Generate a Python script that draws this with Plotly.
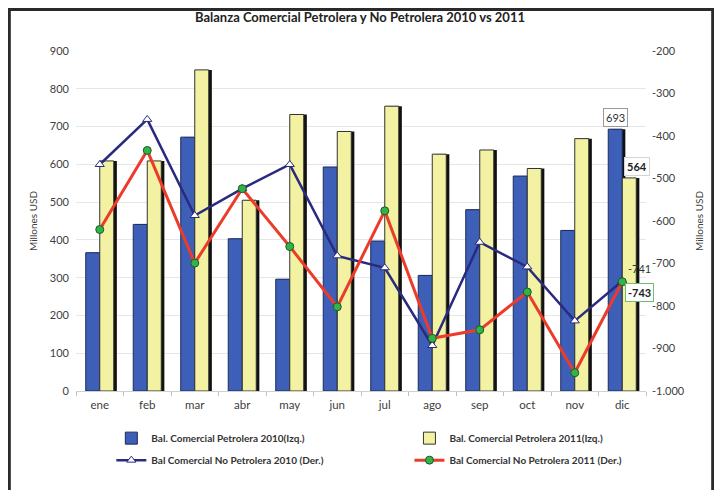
import plotly.graph_objects as go

meses = ["ene", "feb", "mar", "abr", "may", "jun", "jul", "ago", "sep", "oct", "nov", "dic"]
petrolera_2010 = [366, 441, 672, 403, 296, 593, 397, 306, 480, 569, 425, 693]
petrolera_2011 = [609, 609, 850, 505, 732, 687, 754, 627, 638, 589, 668, 564]
no_petrolera_2010 = [-467, -361, -587, -524, -467, -682, -710, -893, -650, -708, -835, -741]
no_petrolera_2011 = [-620, -434, -699, -524, -660, -802, -576, -876, -856, -767, -957, -743]
der_ticks = [-200, -300, -400, -500, -600, -700, -800, -900, -1000]


def fmt(v):
    s = "{:,}".format(abs(v)).replace(",", ".")
    return ("-" if v < 0 else "") + s


FONT = "Lato, Open Sans, sans-serif"
BW = 0.295
SH = 0.065

fig = go.Figure()

for vals, off in [(petrolera_2010, -BW), (petrolera_2011, 0)]:
    fig.add_trace(go.Bar(x=meses, y=vals, width=BW, offset=off + SH,
                         marker=dict(color="#111111", line=dict(width=0)),
                         showlegend=False, hoverinfo="skip"))

fig.add_trace(go.Bar(x=meses, y=petrolera_2010, width=BW, offset=-BW,
                     name="Bal. Comercial Petrolera 2010(Izq.)", legendgroup="a",
                     marker=dict(color="#3d5fb8", line=dict(color="#1c2a5a", width=1)),
                     legend="legend"))
fig.add_trace(go.Bar(x=meses, y=petrolera_2011, width=BW, offset=0,
                     name="Bal. Comercial Petrolera 2011(Izq.)", legendgroup="b",
                     marker=dict(color="#f2f2a2", line=dict(color="#333333", width=1)),
                     legend="legend2"))
fig.add_trace(go.Scatter(x=meses, y=no_petrolera_2010, yaxis="y2", mode="lines+markers",
                         name="Bal Comercial No Petrolera 2010 (Der.)", legendgroup="c",
                         line=dict(color="#2a2a7e", width=2.5),
                         marker=dict(symbol="triangle-up", size=8, color="white",
                                     line=dict(color="#2a2a7e", width=1)),
                         legend="legend"))
fig.add_trace(go.Scatter(x=meses, y=no_petrolera_2011, yaxis="y2", mode="lines+markers",
                         name="Bal Comercial No Petrolera 2011 (Der.)", legendgroup="d",
                         line=dict(color="#ec3b2a", width=3),
                         marker=dict(symbol="circle", size=8, color="#33b24a",
                                     line=dict(color="#1d5a25", width=1)),
                         legend="legend2"))

ann = []
ann.append(dict(x="dic", y=petrolera_2010[-1], xref="x", yref="y", text=str(petrolera_2010[-1]),
                showarrow=False, xshift=-7, yshift=12, bgcolor="white", bordercolor="#9a9a9a",
                borderwidth=1, borderpad=2, font=dict(size=11, color="#333333", family=FONT)))
ann.append(dict(x="dic", y=petrolera_2011[-1], xref="x", yref="y", text="<b>%d</b>" % petrolera_2011[-1],
                showarrow=False, xshift=15, yshift=11, bgcolor="white", bordercolor="#d5d5d5",
                borderwidth=1, borderpad=2, font=dict(size=11, color="#222222", family=FONT)))
ann.append(dict(x="dic", y=no_petrolera_2010[-1], xref="x", yref="y2", text=fmt(no_petrolera_2010[-1]),
                showarrow=False, xshift=17, yshift=12,
                font=dict(size=11, color="#333333", family=FONT)))
ann.append(dict(x="dic", y=no_petrolera_2011[-1], xref="x", yref="y2", text="<b>%s</b>" % fmt(no_petrolera_2011[-1]),
                showarrow=False, xshift=17, yshift=-11, bgcolor="white", bordercolor="#6fbf73",
                borderwidth=1, borderpad=2, font=dict(size=11, color="#222222", family=FONT)))

fig.update_layout(
    width=722, height=490,
    margin=dict(l=68, r=84, t=43, b=107),
    paper_bgcolor="white", plot_bgcolor="white",
    barmode="overlay",
    font=dict(family=FONT, size=11, color="#404040"),
    title=dict(text="<b>Balanza Comercial Petrolera y No Petrolera 2010 vs 2011</b>",
               x=0.4875, xanchor="center", y=0.98, yanchor="middle",
               font=dict(size=13, color="#222222", family=FONT)),
    xaxis=dict(range=[-0.5, 11.5], showgrid=False, showline=True, linecolor="#d0d0d0",
               ticks="outside", tickson="boundaries", ticklen=4, tickcolor="#c0c0c0",
               automargin=False, ticklabelstandoff=3,
               tickfont=dict(size=11.5, color="#404040")),
    yaxis=dict(range=[0, 900], dtick=100, showgrid=True, gridcolor="#e6e6e6",
               zeroline=False, ticks="", automargin=False, ticklabelstandoff=6,
               title=dict(text="Millones USD", font=dict(size=10), standoff=10),
               tickfont=dict(size=11, color="#404040")),
    yaxis2=dict(range=[-1000, -200], overlaying="y", side="right",
                tickmode="array", tickvals=der_ticks, ticktext=[fmt(v) for v in der_ticks],
                showgrid=False, zeroline=False, automargin=False, ticklabelstandoff=5,
                title=dict(text="Millones USD", font=dict(size=10), standoff=12),
                tickfont=dict(size=11, color="#404040")),
    legend=dict(x=0.062, y=-0.096, xanchor="left", yanchor="top", orientation="v",
                font=dict(size=10, color="#333333", family=FONT, weight="bold"), tracegroupgap=3,
                bgcolor="rgba(0,0,0,0)"),
    legend2=dict(x=0.585, y=-0.096, xanchor="left", yanchor="top", orientation="v",
                 font=dict(size=10, color="#333333", family=FONT, weight="bold"), tracegroupgap=3,
                 bgcolor="rgba(0,0,0,0)"),
    annotations=ann,
    shapes=[dict(type="rect", xref="paper", yref="paper", x0=-0.117, x1=1.117,
                 y0=-0.45, y1=1.122, line=dict(color="#2a2a2a", width=3))],
)

fig.write_html("out.html")
